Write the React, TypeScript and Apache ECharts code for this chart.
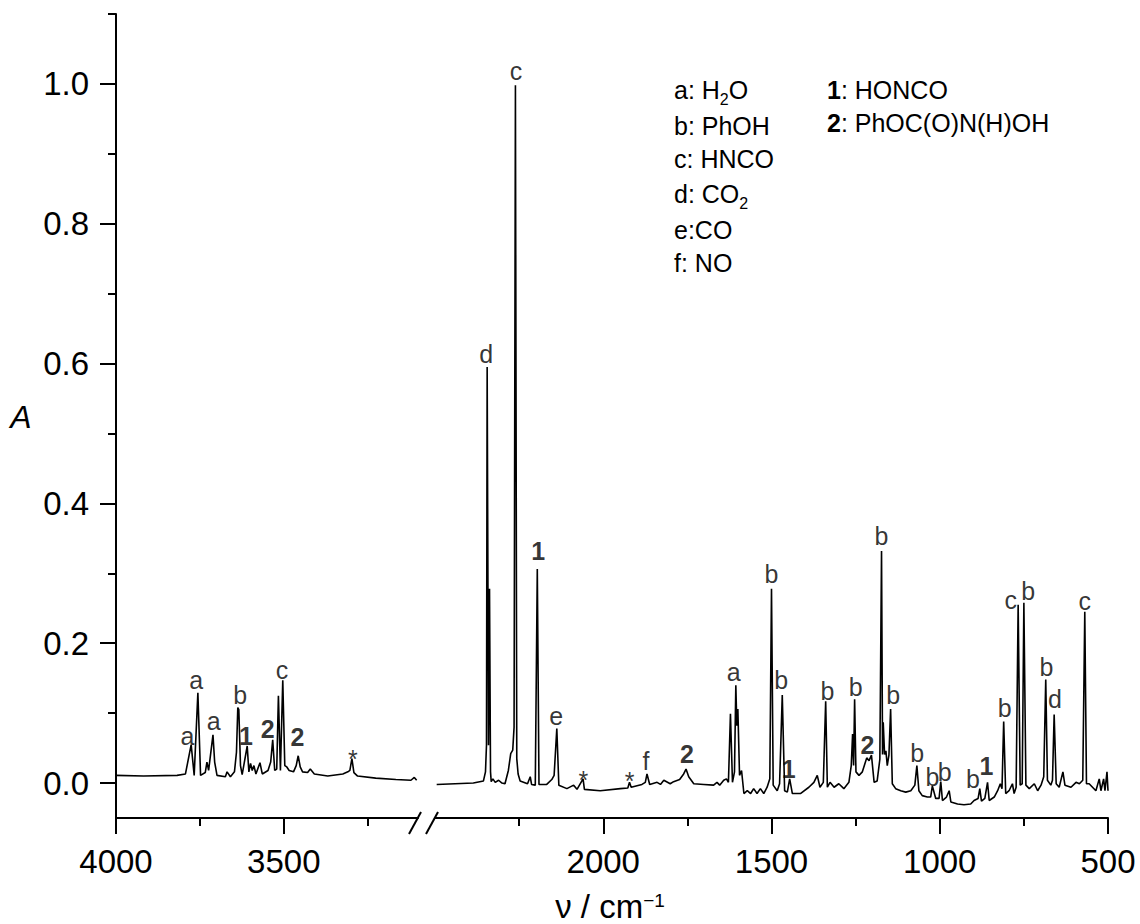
import React, { useEffect, useRef } from "react";
import * as echarts from "echarts";

// Spectrum, high-wavenumber segment: [wavenumber / cm-1, absorbance]
const leftSpectrum: [number, number][] = [
  [4000, 0.011], [3918, 0.010], [3818, 0.011], [3793, 0.013], [3776, 0.055], [3767, 0.011],
  [3756, 0.129], [3748, 0.011], [3734, 0.015], [3729, 0.030], [3724, 0.018], [3711, 0.069],
  [3706, 0.030], [3699, 0.011], [3674, 0.009], [3669, 0.016], [3659, 0.009], [3647, 0.016],
  [3641, 0.044], [3637, 0.108], [3634, 0.105], [3629, 0.025], [3624, 0.012], [3609, 0.053],
  [3604, 0.016], [3599, 0.028], [3594, 0.018], [3589, 0.025], [3583, 0.013], [3571, 0.029],
  [3564, 0.013], [3547, 0.018], [3539, 0.030], [3533, 0.062], [3527, 0.018], [3521, 0.020],
  [3516, 0.125], [3510, 0.018], [3503, 0.147], [3497, 0.025], [3491, 0.023], [3484, 0.018],
  [3471, 0.016], [3463, 0.025], [3457, 0.039], [3451, 0.023], [3444, 0.016], [3429, 0.015],
  [3421, 0.020], [3409, 0.013], [3369, 0.010], [3324, 0.013], [3309, 0.016], [3303, 0.018],
  [3297, 0.035], [3291, 0.015], [3280, 0.010], [3226, 0.007], [3166, 0.005], [3121, 0.004],
  [3111, 0.008], [3104, 0.004],
];

// Spectrum, low-wavenumber segment
const rightSpectrum: [number, number][] = [
  [2495, -0.002], [2386, 0.000], [2356, 0.003], [2350, 0.016], [2347, 0.054], [2345, 0.595],
  [2341, 0.054], [2338, 0.278], [2335, 0.016], [2333, 0.002], [2328, 0.006], [2321, 0.001],
  [2311, 0.004], [2301, 0.000], [2292, -0.001], [2282, 0.018], [2275, 0.042], [2269, 0.047],
  [2265, 0.080], [2261, 0.998], [2257, 0.035], [2253, 0.013], [2247, 0.003], [2225, -0.001],
  [2217, 0.009], [2213, -0.002], [2202, -0.003], [2196, 0.306], [2191, -0.002], [2168, -0.002],
  [2153, 0.005], [2146, 0.011], [2138, 0.078], [2132, -0.003], [2108, -0.008], [2088, -0.003],
  [2078, -0.009], [2060, 0.006], [2056, -0.009], [2009, -0.011], [1949, -0.008], [1927, -0.007],
  [1922, 0.001], [1917, -0.006], [1885, -0.002], [1875, 0.001], [1870, 0.013], [1862, -0.002],
  [1840, 0.001], [1830, -0.002], [1820, 0.004], [1801, -0.001], [1791, 0.002], [1773, 0.005],
  [1761, 0.013], [1754, 0.020], [1746, 0.009], [1731, -0.001], [1701, -0.002], [1672, -0.003],
  [1662, 0.001], [1654, -0.003], [1642, 0.004], [1634, 0.006], [1628, 0.001], [1622, 0.099],
  [1616, 0.001], [1610, 0.016], [1606, 0.140], [1603, 0.082], [1600, 0.106], [1595, 0.011],
  [1589, 0.018], [1582, -0.015], [1572, -0.011], [1562, -0.015], [1553, -0.008], [1543, -0.015],
  [1533, -0.008], [1523, -0.015], [1513, -0.006], [1505, 0.006], [1500, 0.278], [1495, -0.003],
  [1483, -0.011], [1476, -0.001], [1468, 0.126], [1461, -0.011], [1453, -0.013], [1446, 0.006],
  [1438, -0.015], [1414, -0.015], [1389, -0.006], [1374, 0.001], [1364, 0.011], [1356, -0.006],
  [1346, 0.001], [1339, 0.117], [1334, -0.006], [1326, 0.001], [1314, -0.006], [1300, -0.001],
  [1285, -0.008], [1270, 0.001], [1263, 0.025], [1259, 0.070], [1256, 0.025], [1253, 0.120],
  [1249, 0.016], [1240, 0.011], [1230, 0.016], [1217, 0.036], [1210, 0.032], [1203, 0.040],
  [1195, 0.001], [1186, 0.003], [1178, 0.034], [1173, 0.332], [1170, 0.041], [1168, 0.087],
  [1164, 0.041], [1160, 0.046], [1156, 0.025], [1151, 0.040], [1146, 0.106], [1141, -0.001],
  [1131, -0.008], [1116, -0.011], [1101, -0.013], [1086, -0.011], [1074, -0.003], [1068, 0.025],
  [1062, -0.011], [1052, -0.018], [1037, -0.020], [1027, -0.020], [1022, -0.004], [1012, -0.022],
  [1002, -0.022], [997, 0.002], [992, -0.025], [980, -0.020], [972, -0.011], [967, -0.027],
  [947, -0.030], [928, -0.031], [908, -0.030], [898, -0.025], [886, -0.022], [881, -0.008],
  [876, -0.026], [866, -0.022], [858, 0.001], [853, -0.025], [838, -0.020], [828, -0.011],
  [820, -0.001], [815, -0.008], [810, 0.088], [804, -0.015], [794, -0.011], [784, -0.001],
  [779, -0.015], [773, -0.006], [767, 0.255], [761, -0.003], [755, -0.001], [750, 0.258],
  [744, -0.003], [734, -0.008], [719, -0.001], [709, -0.011], [699, -0.003], [691, 0.009],
  [685, 0.148], [680, 0.004], [670, -0.003], [665, 0.004], [660, 0.098], [654, -0.001],
  [645, -0.006], [634, 0.016], [628, -0.003], [610, -0.006], [595, 0.001], [585, -0.001],
  [575, 0.004], [569, 0.245], [564, -0.001], [556, -0.001], [546, -0.006], [536, -0.011],
  [526, 0.006], [521, -0.011], [513, 0.006], [509, -0.011], [503, 0.016], [500, -0.011],
];

// Peak assignment labels: [text, wavenumber, absorbance at label centre, bold]
const leftPeakLabels: [string, number, number, boolean][] = [
  ["a", 3787, 0.067, false], ["a", 3761, 0.148, false], ["a", 3709, 0.089, false],
  ["b", 3630, 0.126, false], ["1", 3613, 0.068, true], ["2", 3548, 0.078, true],
  ["c", 3505, 0.162, false], ["2", 3459, 0.066, true], ["*", 3294, 0.034, false],
];
const rightPeakLabels: [string, number, number, boolean][] = [
  ["d", 2348, 0.613, false], ["c", 2259, 1.018, false], ["1", 2193, 0.332, true],
  ["e", 2140, 0.096, false], ["*", 2059, 0.005, false], ["*", 1922, 0.003, false],
  ["f", 1873, 0.032, false], ["2", 1751, 0.042, true], ["a", 1612, 0.159, false],
  ["b", 1500, 0.299, false], ["b", 1471, 0.148, false], ["1", 1449, 0.020, true],
  ["b", 1334, 0.132, false], ["b", 1250, 0.137, false], ["2", 1215, 0.054, true],
  ["b", 1173, 0.354, false], ["b", 1138, 0.126, false], ["b", 1067, 0.043, false],
  ["b", 1022, 0.009, false], ["b", 985, 0.016, false], ["b", 901, 0.006, false],
  ["1", 861, 0.025, true], ["b", 807, 0.107, false], ["c", 789, 0.262, false],
  ["b", 737, 0.275, false], ["b", 683, 0.166, false], ["d", 658, 0.120, false],
  ["c", 569, 0.261, false],
];

const legendLeftColumn = ["a: H{sub|2}O", "b: PhOH", "c: HNCO", "d: CO{sub|2}", "e:CO", "f: NO"];
const legendRightColumn = ["{b|1}: HONCO", "{b|2}: PhOC(O)N(H)OH"];

const yMajorTicks = [0, 0.2, 0.4, 0.6, 0.8, 1.0];
const yMinorTicks = [0.1, 0.3, 0.5, 0.7, 0.9, 1.1];
const leftMajorTicks = [4000, 3500];
const leftMinorTicks = [3750, 3250];
const rightMajorTicks = [2000, 1500, 1000, 500];
const rightMinorTicks = [2250, 1750, 1250, 750];

const FONT = '"Liberation Sans", Arial, Helvetica, sans-serif';
const BLACK = "#000";

function xAxisDef(grid: number, min: number, max: number, ticks: number[], major: boolean) {
  return {
    type: "value",
    gridIndex: grid,
    position: "bottom",
    inverse: true,
    min,
    max,
    axisLine: { show: major, onZero: false, lineStyle: { color: BLACK, width: 2 } },
    axisTick: {
      show: true,
      inside: false,
      length: major ? 16 : 8,
      customValues: ticks,
      lineStyle: { color: BLACK, width: 2 },
    },
    axisLabel: major
      ? {
          show: true,
          customValues: ticks,
          margin: 27,
          fontSize: 33,
          color: BLACK,
          fontFamily: FONT,
          formatter: (v: number) => String(Math.round(v)),
        }
      : { show: false },
    splitLine: { show: false },
  };
}

function labelSeries(labels: [string, number, number, boolean][], axisIndex: number) {
  return {
    type: "scatter",
    xAxisIndex: axisIndex,
    yAxisIndex: axisIndex === 0 ? 0 : 2,
    symbolSize: 0,
    silent: true,
    z: 5,
    itemStyle: { color: BLACK },
    label: {
      show: true,
      position: [0, 0],
      align: "center",
      verticalAlign: "middle",
      formatter: "{b}",
      fontSize: 25,
      color: BLACK,
      textBorderWidth: 0,
      fontFamily: FONT,
    },
    data: labels.map(([t, v, a, bold]) => ({
      name: t,
      value: [v, a],
      label: bold ? { fontWeight: "bold" } : undefined,
    })),
  };
}

const legendCenters = [90.3, 126, 159.3, 193.7, 230.3, 262.7];
const legendRightCenters = [90.3, 122.7];

function buildOption() {
  const textStyleBase = { fontSize: 25, fontFamily: FONT, fill: BLACK, align: "left", verticalAlign: "middle" };
  const rich = {
    sub: { fontSize: 16, fontFamily: FONT, fill: BLACK, padding: [19, 0, 0, 0] },
    b: { fontSize: 25, fontFamily: FONT, fill: BLACK, fontWeight: "bold" },
  };
  const graphics: any[] = [];
  legendLeftColumn.forEach((t, i) => {
    graphics.push({ type: "text", x: 674, y: legendCenters[i], style: { ...textStyleBase, text: t, rich } });
  });
  legendRightColumn.forEach((t, i) => {
    graphics.push({ type: "text", x: 827, y: legendRightCenters[i], style: { ...textStyleBase, text: t, rich } });
  });
  graphics.push({
    type: "text",
    x: 610,
    y: 906,
    style: {
      text: "ν / cm{sup|−1}",
      fontSize: 33,
      fontFamily: FONT,
      fill: BLACK,
      align: "center",
      verticalAlign: "middle",
      rich: { sup: { fontSize: 19, fontFamily: FONT, fill: BLACK, padding: [0, 0, 11, 0] } },
    },
  });
  graphics.push({
    type: "text",
    x: 21,
    y: 417,
    style: {
      text: "A",
      fontSize: 32,
      fontStyle: "italic",
      fontFamily: FONT,
      fill: BLACK,
      align: "center",
      verticalAlign: "middle",
    },
  });
  graphics.push({ type: "rect", shape: { x: 419, y: 815, width: 15, height: 6 }, style: { fill: "#fff" }, z: 10 });
  graphics.push({ type: "line", shape: { x1: 409, y1: 834, x2: 421, y2: 812 }, style: { stroke: BLACK, lineWidth: 2 }, z: 11 });
  graphics.push({ type: "line", shape: { x1: 426, y1: 834, x2: 438, y2: 812 }, style: { stroke: BLACK, lineWidth: 2 }, z: 11 });

  return {
    animation: false,
    backgroundColor: "#fff",
    grid: [
      { left: 116, top: 14, width: 302, height: 804 },
      { left: 435, top: 14, width: 673, height: 804 },
    ],
    xAxis: [
      xAxisDef(0, 3100, 4000, leftMajorTicks, true),
      xAxisDef(0, 3100, 4000, leftMinorTicks, false),
      xAxisDef(1, 500, 2500, rightMajorTicks, true),
      xAxisDef(1, 500, 2500, rightMinorTicks, false),
    ],
    yAxis: [
      {
        type: "value",
        gridIndex: 0,
        position: "left",
        min: -0.05,
        max: 1.1,
        axisLine: { show: true, onZero: false, lineStyle: { color: BLACK, width: 2 } },
        axisTick: { show: true, inside: false, length: 16, customValues: yMajorTicks, lineStyle: { color: BLACK, width: 2 } },
        axisLabel: {
          show: true,
          customValues: yMajorTicks,
          margin: 27,
          fontSize: 33,
          color: BLACK,
          fontFamily: FONT,
          formatter: (v: number) => v.toFixed(1),
        },
        splitLine: { show: false },
      },
      {
        type: "value",
        gridIndex: 0,
        position: "left",
        min: -0.05,
        max: 1.1,
        axisLine: { show: false, onZero: false },
        axisTick: { show: true, inside: false, length: 8, customValues: yMinorTicks, lineStyle: { color: BLACK, width: 2 } },
        axisLabel: { show: false },
        splitLine: { show: false },
      },
      {
        type: "value",
        gridIndex: 1,
        show: false,
        min: -0.05,
        max: 1.1,
        splitLine: { show: false },
      },
    ],
    series: [
      {
        type: "line",
        xAxisIndex: 0,
        yAxisIndex: 0,
        data: leftSpectrum,
        showSymbol: false,
        symbol: "none",
        silent: true,
        lineStyle: { color: BLACK, width: 1.6 },
      },
      {
        type: "line",
        xAxisIndex: 2,
        yAxisIndex: 2,
        data: rightSpectrum,
        showSymbol: false,
        symbol: "none",
        silent: true,
        lineStyle: { color: BLACK, width: 1.6 },
      },
      labelSeries(leftPeakLabels, 0),
      labelSeries(rightPeakLabels, 2),
    ],
    graphic: graphics,
  };
}

export default function App() {
  const ref = useRef<HTMLDivElement>(null);
  useEffect(() => {
    if (!ref.current) return;
    const chart = echarts.init(ref.current, undefined, { renderer: "svg" });
    chart.setOption(buildOption() as any);
    return () => chart.dispose();
  }, []);
  return (
    <div
      ref={ref}
      style={{ position: "absolute", left: 0, top: 0, width: 1140, height: 924, background: "#fff" }}
    />
  );
}
